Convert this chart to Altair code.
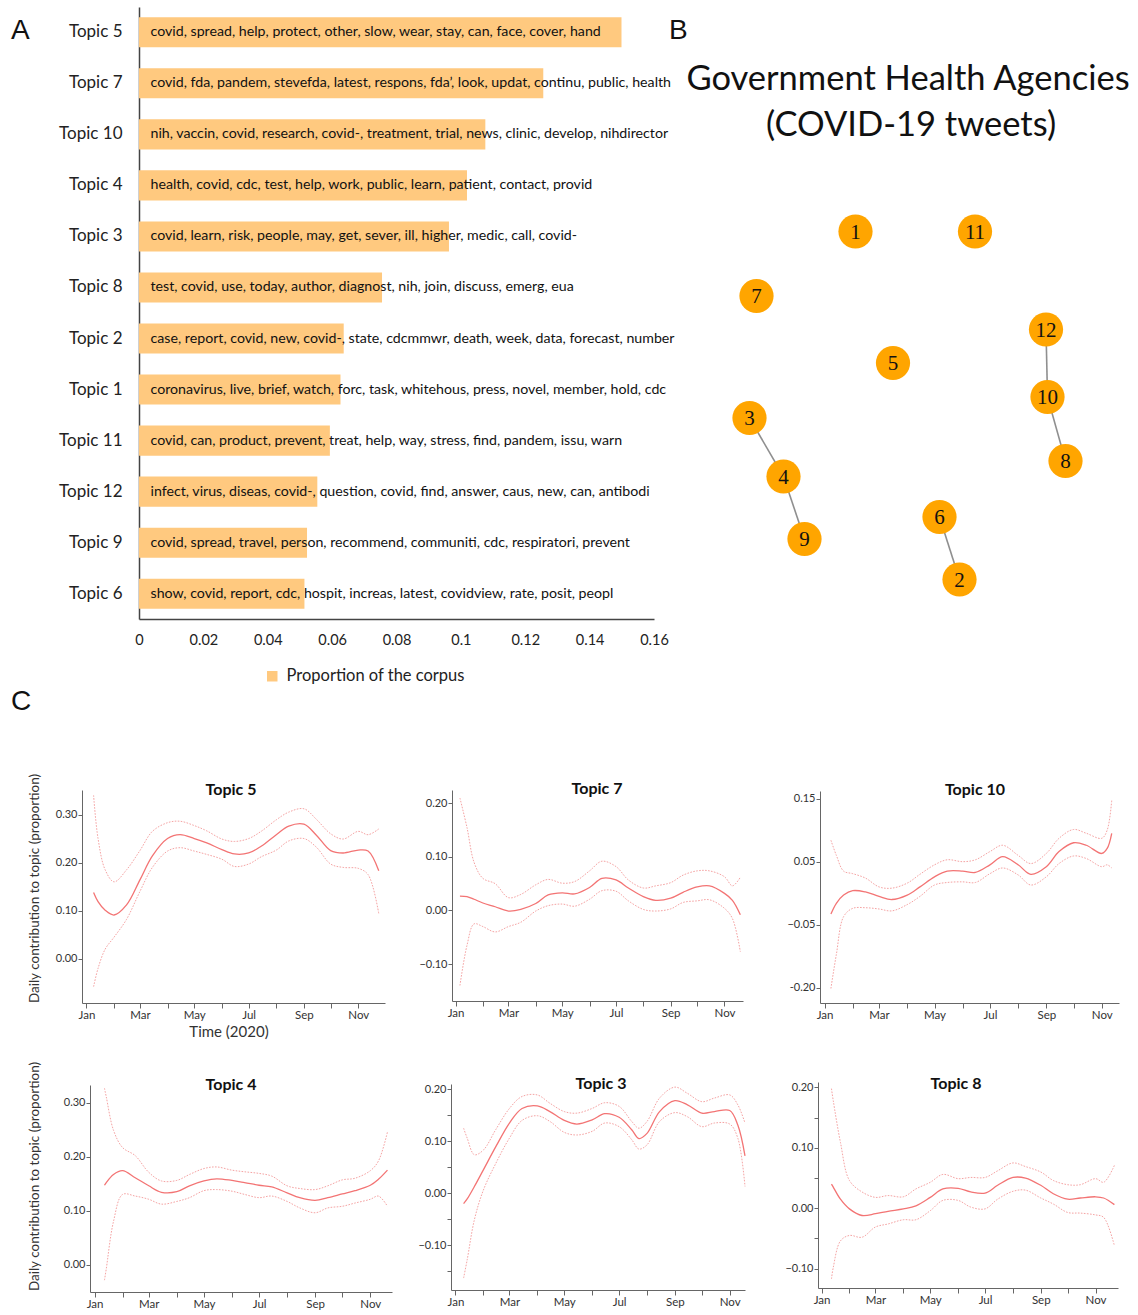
import altair as alt
import pandas as pd

W, H = 1138, 1315
FONT = "Lato"
BAR_COLOR = "#FFC97F"
NODE_COLOR = "#FFA500"
MEAN_COLOR = "#F37474"
BAND_COLOR = "#F5A3A3"
AXC = "#666666"

# ---------------- Panel A data ----------------
TOPICS = ["Topic 5", "Topic 7", "Topic 10", "Topic 4", "Topic 3", "Topic 8",
          "Topic 2", "Topic 1", "Topic 11", "Topic 12", "Topic 9", "Topic 6"]
PROPORTIONS = [0.1499, 0.1256, 0.1076, 0.1019, 0.0963, 0.0755,
               0.0636, 0.0626, 0.0593, 0.0554, 0.0522, 0.0514]
TOP_WORDS = [
    "covid, spread, help, protect, other, slow, wear, stay, can, face, cover, hand",
    "covid, fda, pandem, stevefda, latest, respons, fda’, look, updat, continu, public, health",
    "nih, vaccin, covid, research, covid-, treatment, trial, news, clinic, develop, nihdirector",
    "health, covid, cdc, test, help, work, public, learn, patient, contact, provid",
    "covid, learn, risk, people, may, get, sever, ill, higher, medic, call, covid-",
    "test, covid, use, today, author, diagnost, nih, join, discuss, emerg, eua",
    "case, report, covid, new, covid-, state, cdcmmwr, death, week, data, forecast, number",
    "coronavirus, live, brief, watch, forc, task, whitehous, press, novel, member, hold, cdc",
    "covid, can, product, prevent, treat, help, way, stress, find, pandem, issu, warn",
    "infect, virus, diseas, covid-, question, covid, find, answer, caus, new, can, antibodi",
    "covid, spread, travel, person, recommend, communiti, cdc, respiratori, prevent",
    "show, covid, report, cdc, hospit, increas, latest, covidview, rate, posit, peopl",
]
X_TICKS_A = [0, 0.02, 0.04, 0.06, 0.08, 0.1, 0.12, 0.14, 0.16]

# ---------------- Panel B data (network layout) ----------------
NODE_IDS = [1, 11, 7, 12, 5, 3, 10, 8, 4, 6, 9, 2]
NODE_X = [175.5, 295, 76.5, 366, 213, 69.5, 367.5, 385.5, 103.5, 259.5, 124.5, 279.5]
NODE_Y = [231.5, 231.5, 296, 329.5, 363, 418, 397, 461, 476.5, 517, 539, 579.5]
EDGES = [(12, 10), (10, 8), (3, 4), (4, 9), (6, 2)]

# ---------------- Panel C data ----------------
# shared sampling dates (after each series' own start date)
DATES = ["2020-01-14", "2020-01-22", "2020-02-01", "2020-02-15",
         "2020-03-01", "2020-03-15", "2020-04-01", "2020-04-15", "2020-05-01",
         "2020-05-15", "2020-06-01", "2020-06-15", "2020-07-01", "2020-07-15",
         "2020-08-01", "2020-08-15", "2020-09-01", "2020-09-15", "2020-10-01",
         "2020-10-15", "2020-11-01"]

T5_START, T5_EXTRA, T5_TAIL = "2020-01-09", [], ["2020-11-12", "2020-11-24"]
T5_MEAN = [0.138, 0.119, 0.101, 0.091, 0.112, 0.164, 0.214, 0.250, 0.258, 0.250, 0.241, 0.227,
           0.218, 0.220, 0.234, 0.258, 0.276, 0.280, 0.257, 0.225, 0.220, 0.226, 0.224, 0.183]
T5_UPPER = [0.340, 0.250, 0.185, 0.160, 0.185, 0.225, 0.265, 0.283, 0.286, 0.277, 0.266, 0.249,
            0.244, 0.250, 0.265, 0.289, 0.305, 0.312, 0.290, 0.260, 0.249, 0.265, 0.258, 0.270]
T5_LOWER = [-0.058, -0.020, 0.020, 0.045, 0.082, 0.140, 0.190, 0.224, 0.231, 0.224, 0.217, 0.207,
            0.192, 0.197, 0.212, 0.226, 0.245, 0.250, 0.232, 0.197, 0.190, 0.188, 0.175, 0.094]

T7_START, T7_EXTRA, T7_TAIL = "2020-01-06", [], ["2020-11-10", "2020-11-19"]
T7_MEAN = [0.027, 0.026, 0.021, 0.014, 0.007, -0.001, 0.002, 0.013, 0.029, 0.033, 0.031, 0.043,
           0.060, 0.057, 0.042, 0.026, 0.019, 0.023, 0.034, 0.044, 0.046, 0.032, 0.019, -0.008]
T7_UPPER = [0.210, 0.155, 0.090, 0.060, 0.050, 0.024, 0.030, 0.048, 0.058, 0.051, 0.054, 0.074,
            0.092, 0.082, 0.057, 0.042, 0.046, 0.052, 0.066, 0.074, 0.074, 0.063, 0.046, 0.062]
T7_LOWER = [-0.140, -0.065, -0.025, -0.030, -0.040, -0.030, -0.022, -0.001, 0.009, 0.012, 0.008, 0.021,
            0.037, 0.036, 0.018, 0.002, -0.001, 0.003, 0.015, 0.018, 0.020, 0.004, -0.015, -0.077]

T10_START, T10_EXTRA, T10_TAIL = "2020-01-08", [], ["2020-11-07", "2020-11-12"]
T10_MEAN = [-0.033, -0.016, -0.003, 0.004, 0.002, -0.005, -0.010, -0.003, 0.010, 0.026, 0.035, 0.035,
            0.033, 0.045, 0.058, 0.045, 0.030, 0.042, 0.066, 0.080, 0.076, 0.063, 0.071, 0.095]
T10_UPPER = [0.084, 0.060, 0.035, 0.031, 0.024, 0.010, 0.008, 0.016, 0.030, 0.045, 0.053, 0.050,
             0.053, 0.066, 0.076, 0.060, 0.047, 0.063, 0.087, 0.101, 0.095, 0.087, 0.100, 0.147]
T10_LOWER = [-0.151, -0.097, -0.037, -0.024, -0.023, -0.025, -0.028, -0.018, -0.005, 0.013, 0.017, 0.018,
             0.017, 0.031, 0.040, 0.029, 0.013, 0.026, 0.047, 0.059, 0.055, 0.042, 0.045, 0.040]

T4_START, T4_EXTRA, T4_TAIL = "2020-01-12", [], ["2020-11-10", "2020-11-20"]
T4_MEAN = [0.147, 0.152, 0.167, 0.174, 0.161, 0.146, 0.134, 0.135, 0.146, 0.155, 0.159, 0.156,
           0.152, 0.147, 0.144, 0.133, 0.124, 0.119, 0.124, 0.131, 0.137, 0.147, 0.158, 0.175]
T4_UPPER = [0.327, 0.311, 0.249, 0.217, 0.202, 0.171, 0.155, 0.156, 0.167, 0.178, 0.181, 0.175,
            0.172, 0.169, 0.164, 0.146, 0.141, 0.139, 0.146, 0.157, 0.160, 0.174, 0.192, 0.246]
T4_LOWER = [-0.029, -0.008, 0.080, 0.130, 0.127, 0.121, 0.112, 0.117, 0.124, 0.137, 0.139, 0.136,
            0.130, 0.124, 0.127, 0.117, 0.105, 0.096, 0.105, 0.108, 0.114, 0.121, 0.127, 0.108]

T3_START, T3_EXTRA, T3_TAIL = "2020-01-10", ["2020-07-23"], ["2020-11-10", "2020-11-18"]
T3_MEAN = [-0.020, -0.011, 0.013, 0.045, 0.090, 0.135, 0.163, 0.168, 0.157, 0.140, 0.133, 0.141,
           0.153, 0.146, 0.122, 0.105, 0.115, 0.157, 0.178, 0.170, 0.154, 0.157, 0.159, 0.131, 0.072]
T3_UPPER = [0.125, 0.106, 0.074, 0.083, 0.123, 0.163, 0.186, 0.189, 0.173, 0.157, 0.154, 0.163,
            0.174, 0.167, 0.138, 0.125, 0.138, 0.183, 0.204, 0.192, 0.176, 0.183, 0.189, 0.170, 0.135]
T3_LOWER = [-0.163, -0.128, -0.051, 0.006, 0.058, 0.106, 0.140, 0.149, 0.138, 0.117, 0.112, 0.119,
            0.135, 0.128, 0.103, 0.085, 0.093, 0.138, 0.155, 0.147, 0.128, 0.135, 0.133, 0.106, 0.013]

T8_START, T8_EXTRA, T8_TAIL = "2020-01-12", [], ["2020-11-10", "2020-11-22"]
T8_MEAN = [0.040, 0.035, 0.015, -0.001, -0.012, -0.009, -0.005, -0.001, 0.004, 0.018, 0.032, 0.033,
           0.027, 0.025, 0.038, 0.051, 0.050, 0.038, 0.024, 0.015, 0.017, 0.019, 0.017, 0.006]
T8_UPPER = [0.198, 0.178, 0.109, 0.046, 0.027, 0.018, 0.021, 0.019, 0.032, 0.043, 0.056, 0.049,
            0.051, 0.051, 0.062, 0.075, 0.069, 0.060, 0.046, 0.039, 0.039, 0.049, 0.043, 0.071]
T8_LOWER = [-0.117, -0.098, -0.054, -0.045, -0.048, -0.031, -0.026, -0.019, -0.019, -0.004, 0.013, 0.013,
            0.002, -0.001, 0.015, 0.028, 0.030, 0.017, 0.007, -0.007, -0.008, -0.011, -0.015, -0.062]

MONTH_TICKS = [alt.DateTime(year=2020, month=m, date=1) for m in range(1, 12)]
Y_TITLE = "Daily contribution to topic (proportion)"


def label(text, x, y, size=28, font="Liberation Sans", weight="normal", align="left", color="#111111"):
    return alt.Chart(pd.DataFrame({"t": [text]})).mark_text(
        font=font, fontSize=size, fontWeight=weight, align=align,
        baseline="alphabetic", color=color
    ).encode(x=alt.value(x), y=alt.value(y), text="t:N")


# ---------------- Panel A ----------------
bar_df = pd.DataFrame({"topic": TOPICS, "proportion": PROPORTIONS, "words": TOP_WORDS,
                       "legend": ["Proportion of the corpus"] * len(TOPICS)})

x_bar = alt.X("proportion:Q",
              scale=alt.Scale(domain=[0, 0.16], range=[139, 654], nice=False, zero=True),
              axis=alt.Axis(orient="bottom", offset=619 - H, values=X_TICKS_A, format="~g",
                            ticks=False, grid=False, labelFont=FONT, labelFontSize=14.5,
                            labelColor="#222222", labelPadding=14, domainColor="#444444",
                            domainWidth=1.5, labelFlush=False, labelOverlap=False, title=None))
y_bar = alt.Y("topic:N",
              scale=alt.Scale(domain=TOPICS, range=[7, 619], paddingInner=0.41, paddingOuter=0.2),
              axis=alt.Axis(orient="left", offset=-139, ticks=False, grid=False, labelFont=FONT,
                            labelFontSize=17, labelColor="#222222", labelPadding=17,
                            domainColor="#444444", domainWidth=1.5, title=None))

bars = alt.Chart(bar_df).mark_bar(color=BAR_COLOR).encode(
    x=x_bar, y=y_bar,
    color=alt.Color("legend:N",
                    scale=alt.Scale(domain=["Proportion of the corpus"], range=[BAR_COLOR]),
                    legend=alt.Legend(orient="none", legendX=264, legendY=668, title=None,
                                      symbolType="square", symbolSize=110, symbolStrokeWidth=0,
                                      labelFont=FONT, labelFontSize=16.5, labelColor="#222222",
                                      labelOffset=6, labelLimit=400)))
words = alt.Chart(bar_df).mark_text(align="left", baseline="middle", dx=11.5, font=FONT,
                                    fontSize=14.2, color="#111111").encode(
    x=alt.datum(0), y=y_bar, text="words:N")
panel_a = alt.layer(bars, words)

# ---------------- Panel B ----------------
pos = dict(zip(NODE_IDS, zip(NODE_X, NODE_Y)))
node_df = pd.DataFrame({"id": [str(i) for i in NODE_IDS], "nx": NODE_X, "ny": NODE_Y})
edge_df = pd.DataFrame([{"x1": pos[a][0], "y1": pos[a][1], "x2": pos[b][0], "y2": pos[b][1]}
                        for a, b in EDGES])
bxs = alt.Scale(domain=[0, 458], range=[680, 1138], nice=False, zero=False)
bys = alt.Scale(domain=[0, 620], range=[0, 620], nice=False, zero=False)

edges = alt.Chart(edge_df).mark_rule(color="#8f8f8f", strokeWidth=1.6).encode(
    x=alt.X("x1:Q", scale=bxs, axis=None), x2="x2:Q",
    y=alt.Y("y1:Q", scale=bys, axis=None), y2="y2:Q")
nodes = alt.Chart(node_df).mark_circle(size=1170, color=NODE_COLOR, opacity=1).encode(
    x=alt.X("nx:Q", scale=bxs, axis=None), y=alt.Y("ny:Q", scale=bys, axis=None))
node_text = alt.Chart(node_df).mark_text(font="Liberation Serif", fontSize=21, color="#111111",
                                         baseline="middle", dy=1).encode(
    x=alt.X("nx:Q", scale=bxs, axis=None), y=alt.Y("ny:Q", scale=bys, axis=None), text="id:N")
panel_b = alt.layer(edges, nodes, node_text,
                    label("Government Health Agencies", 908, 90, size=34.5, font=FONT, align="center"),
                    label("(COVID-19 tweets)", 911, 136, size=34.5, font=FONT, align="center"))


# ---------------- Panel C ----------------
def topic_panel(name, start, extra, tail, mean, upper, lower, xr, d0, d1, yr, ydom, yvals,
                ylabel_expr, title_xy, ytitle_xy=None):
    dates = sorted([start] + DATES + extra + tail)
    df = pd.DataFrame({"date": [d + "T00:00:00" for d in dates],
                       "mean": mean, "upper": upper, "lower": lower})
    x_axis = alt.Axis(orient="bottom", offset=yr[0] - H, values=MONTH_TICKS,
                      labelExpr="month(datum.value) % 2 == 0 ? timeFormat(datum.value, '%b') : ''",
                      tickSize=5, tickColor=AXC, domainColor=AXC, labelFont=FONT, labelFontSize=11.5,
                      labelColor="#333333", labelPadding=1, grid=False, labelFlush=False,
                      labelOverlap=False, title=None)
    y_axis_kw = dict(orient="left", offset=-xr[0], values=yvals, labelExpr=ylabel_expr,
                     tickSize=4, tickColor=AXC, domainColor=AXC, labelFont=FONT, labelFontSize=11,
                     labelColor="#333333", labelPadding=1, grid=False, labelOverlap=False)
    if ytitle_xy:
        y_axis_kw.update(title=Y_TITLE, titleX=ytitle_xy[0] - xr[0], titleY=ytitle_xy[1],
                         titleAngle=270, titleBaseline="middle", titleAlign="center",
                         titleFont=FONT, titleFontSize=13.5, titleFontWeight="normal",
                         titleColor="#333333")
    else:
        y_axis_kw.update(title=None)

    xenc = alt.X("date:T", scale=alt.Scale(domain=[d0, d1], range=list(xr), nice=False), axis=x_axis)
    ys = alt.Scale(domain=ydom, range=list(yr), nice=False, zero=False)
    yax = alt.Axis(**y_axis_kw)
    base = alt.Chart(df)
    lo = base.mark_line(color=BAND_COLOR, strokeWidth=1.0, strokeDash=[1.6, 1.4],
                        interpolate="catmull-rom").encode(x=xenc, y=alt.Y("lower:Q", scale=ys, axis=yax))
    up = base.mark_line(color=BAND_COLOR, strokeWidth=1.0, strokeDash=[1.6, 1.4],
                        interpolate="catmull-rom").encode(x=xenc, y=alt.Y("upper:Q", scale=ys, axis=yax))
    mn = base.mark_line(color=MEAN_COLOR, strokeWidth=1.3,
                        interpolate="catmull-rom").encode(x=xenc, y=alt.Y("mean:Q", scale=ys, axis=yax))
    ttl = label(name, title_xy[0], title_xy[1], size=16, font=FONT, weight="bold", align="center")
    return alt.layer(lo, up, mn, ttl)


def dt(y, m, d):
    return alt.DateTime(year=y, month=m, date=d)


LAB2 = "format(datum.value, '.2f')"
LAB_T10 = "datum.value < -0.1 ? '-0.20' : format(datum.value, '.2f')"
LAB_HALF = "abs(round(datum.value * 100)) % 10 == 0 ? format(datum.value, '.2f') : ''"

p5 = topic_panel("Topic 5", T5_START, T5_EXTRA, T5_TAIL, T5_MEAN, T5_UPPER, T5_LOWER, (82, 385),
                 dt(2019, 12, 27), dt(2020, 12, 1), (1003, 790), [-0.092, 0.351], [0, 0.1, 0.2, 0.3],
                 LAB2, (231, 795), ytitle_xy=(34, 888))
p7 = topic_panel("Topic 7", T7_START, T7_EXTRA, T7_TAIL, T7_MEAN, T7_UPPER, T7_LOWER, (452, 743),
                 dt(2019, 12, 28), dt(2020, 11, 22), (1001, 790), [-0.169, 0.225], [-0.1, 0, 0.1, 0.2],
                 LAB2, (597, 794))
p10 = topic_panel("Topic 10", T10_START, T10_EXTRA, T10_TAIL, T10_MEAN, T10_UPPER, T10_LOWER, (820, 1119),
                  dt(2019, 12, 27), dt(2020, 11, 20), (1003, 791), [-0.174, 0.162],
                  [-0.15, -0.05, 0.05, 0.15], LAB_T10, (975, 795))
p4 = topic_panel("Topic 4", T4_START, T4_EXTRA, T4_TAIL, T4_MEAN, T4_UPPER, T4_LOWER, (90, 392),
                 dt(2019, 12, 27), dt(2020, 11, 25), (1292, 1085), [-0.051, 0.333], [0, 0.1, 0.2, 0.3],
                 LAB2, (231, 1090), ytitle_xy=(34, 1176))
p3 = topic_panel("Topic 3", T3_START, T3_EXTRA, T3_TAIL, T3_MEAN, T3_UPPER, T3_LOWER, (451, 745),
                 dt(2019, 12, 27), dt(2020, 11, 18), (1290, 1084), [-0.186, 0.21],
                 [-0.15, -0.1, -0.05, 0, 0.05, 0.1, 0.15, 0.2], LAB_HALF, (601, 1089))
p8 = topic_panel("Topic 8", T8_START, T8_EXTRA, T8_TAIL, T8_MEAN, T8_UPPER, T8_LOWER, (818, 1118),
                 dt(2019, 12, 28), dt(2020, 11, 26), (1288, 1082), [-0.132, 0.209],
                 [-0.1, -0.05, 0, 0.05, 0.1, 0.15, 0.2], LAB_HALF, (956, 1089))

chart = alt.layer(
    panel_a, panel_b,
    label("A", 11, 39), label("B", 669, 39), label("C", 11, 710),
    label("Time (2020)", 229, 1037, size=15, font=FONT, align="center", color="#333333"),
    p5, p7, p10, p4, p3, p8,
).resolve_scale(
    x="independent", y="independent", color="independent"
).properties(
    width=W, height=H, padding=0, background="white",
    autosize=alt.AutoSizeParams(type="none"),
).configure_view(strokeWidth=0)

chart.save("out.html", embed_options={"renderer": "svg", "actions": False})
